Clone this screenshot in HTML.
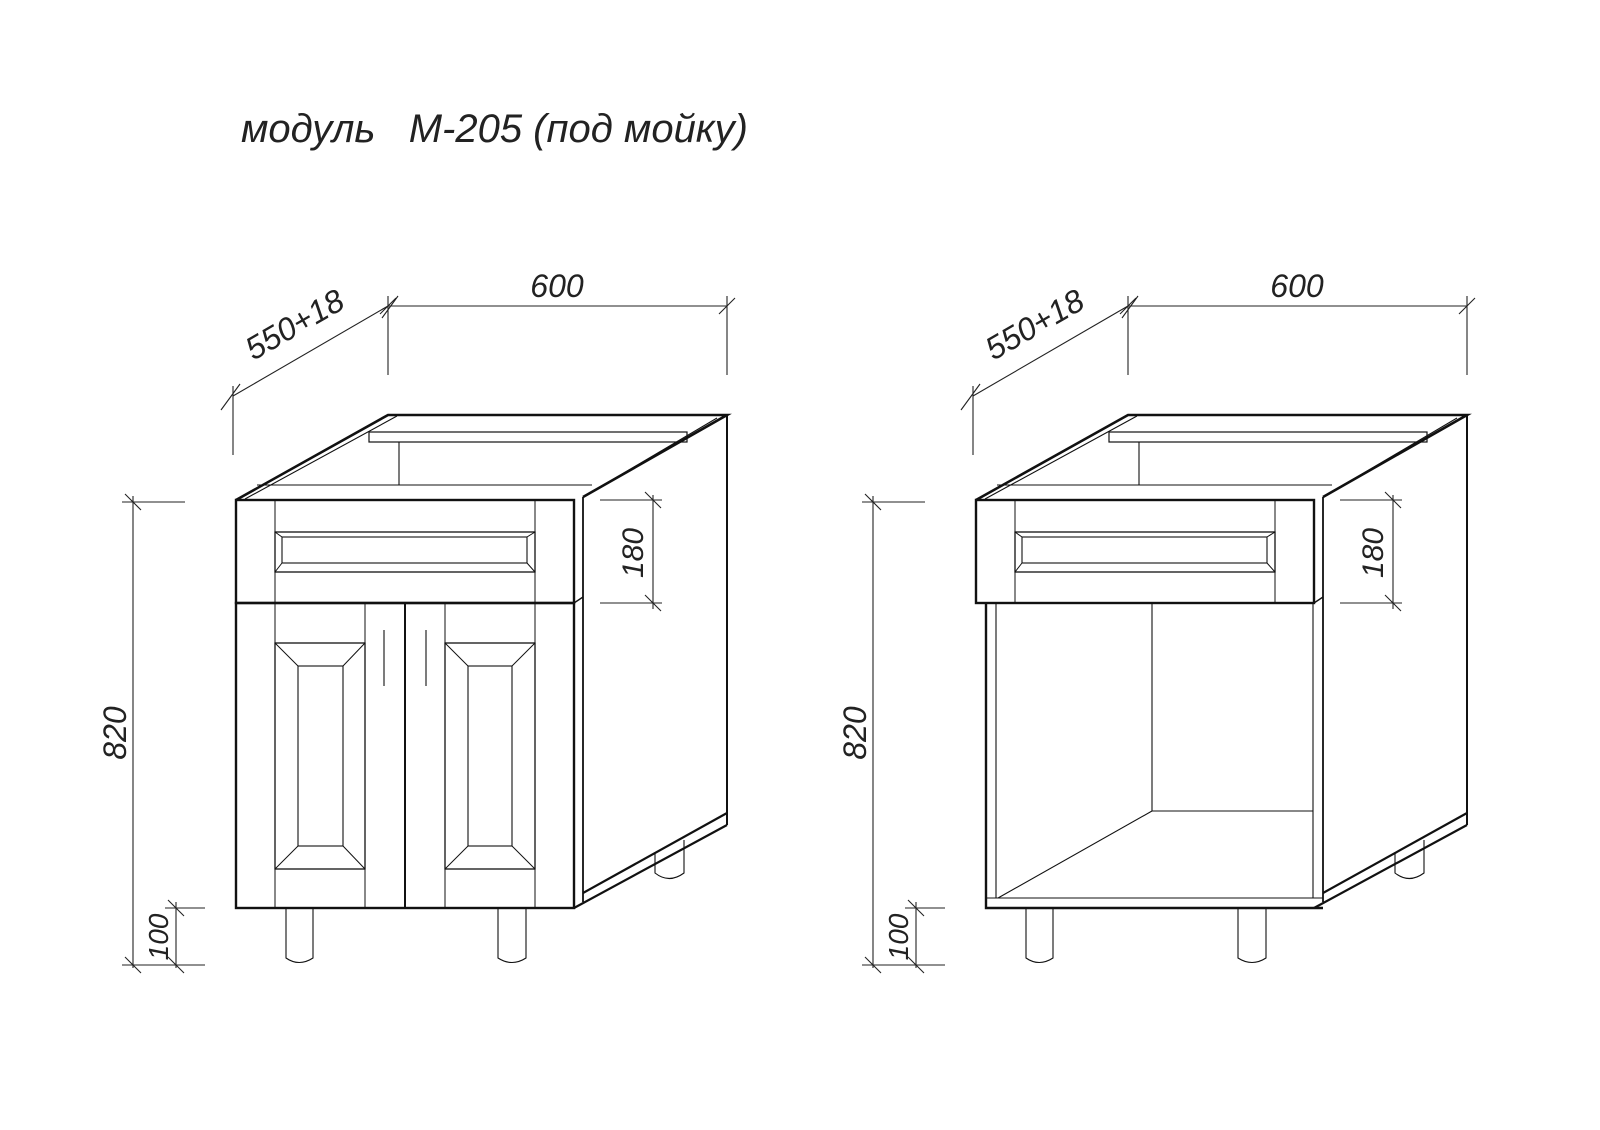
<!DOCTYPE html>
<html><head><meta charset="utf-8"><style>
html,body{margin:0;padding:0;background:#fff}
svg{display:block}
text{font-family:"Liberation Sans","DejaVu Sans",sans-serif;font-style:italic;fill:#222}
</style></head><body>
<svg width="1600" height="1130" viewBox="0 0 1600 1130" xmlns="http://www.w3.org/2000/svg">
<defs>
<g id="dims" stroke="#222" fill="none" stroke-width="1.1">
  <!-- 600 -->
  <line x1="388" y1="306" x2="727" y2="306"/>
  <line x1="388" y1="296" x2="388" y2="375"/>
  <line x1="727" y1="296" x2="727" y2="375"/>
  <line x1="380" y1="314" x2="396" y2="298"/>
  <line x1="719" y1="314" x2="735" y2="298"/>
  <!-- 550+18 -->
  <line x1="233" y1="396" x2="388" y2="306"/>
  <line x1="233" y1="386" x2="233" y2="455"/>
  <line x1="221" y1="410" x2="240" y2="384"/>
  <line x1="382" y1="318" x2="398" y2="296"/>
  <!-- 820 -->
  <line x1="133" y1="496" x2="133" y2="968"/>
  <line x1="122" y1="502" x2="185" y2="502"/>
  <line x1="122" y1="965" x2="205" y2="965"/>
  <line x1="125" y1="494" x2="141" y2="510"/>
  <line x1="125" y1="957" x2="141" y2="973"/>
  <!-- 100 -->
  <line x1="176" y1="902" x2="176" y2="968"/>
  <line x1="165" y1="908" x2="205" y2="908"/>
  <line x1="168" y1="900" x2="184" y2="916"/>
  <line x1="168" y1="957" x2="184" y2="973"/>
  <!-- 180 -->
  <line x1="653" y1="495" x2="653" y2="609"/>
  <line x1="600" y1="500" x2="662" y2="500"/>
  <line x1="600" y1="603" x2="662" y2="603"/>
  <line x1="645" y1="492" x2="661" y2="508"/>
  <line x1="645" y1="595" x2="661" y2="611"/>
</g>
<g id="dimtext">
  <text x="557" y="297" font-size="32" text-anchor="middle" transform="scale(1,1)">600</text>
  <text x="0" y="0" font-size="32" text-anchor="middle" transform="translate(300,334) rotate(-30)">550+18</text>
  <text x="0" y="0" font-size="32" text-anchor="middle" transform="translate(126,733) rotate(-90)">820</text>
  <text x="0" y="0" font-size="28" text-anchor="middle" transform="translate(168,937) rotate(-90)">100</text>
  <text x="0" y="0" font-size="30" text-anchor="middle" transform="translate(643,553) rotate(-90)">180</text>
</g>
<g id="box" stroke="#111" fill="none">
  <!-- top outline -->
  <polyline points="236,500 388,415 727,415 583,497" stroke-width="2.6"/>
  <line x1="245" y1="499" x2="397" y2="416" stroke-width="1.1"/>
  <line x1="583" y1="497" x2="717" y2="418" stroke-width="1.1"/>
  <rect x="369" y="432" width="318" height="10" stroke-width="1.2"/>
  <line x1="399" y1="442" x2="399" y2="485" stroke-width="1.1"/>
  <line x1="257" y1="485" x2="592" y2="485" stroke-width="1.1"/>
  <!-- side panel -->
  <line x1="727" y1="415" x2="727" y2="825" stroke-width="2"/>
  <line x1="583" y1="497" x2="583" y2="902" stroke-width="1.8"/>
  <line x1="574" y1="603" x2="583" y2="597" stroke-width="1.4"/>
  <line x1="574" y1="908" x2="727" y2="825" stroke-width="2.2"/>
  <line x1="583" y1="893" x2="727" y2="813" stroke-width="2.2"/>
  <!-- drawer -->
  <rect x="236" y="500" width="338" height="103" stroke-width="2.4"/>
  <line x1="275" y1="500" x2="275" y2="603" stroke-width="1"/>
  <line x1="535" y1="500" x2="535" y2="603" stroke-width="1"/>
  <rect x="275" y="532" width="260" height="40" stroke-width="1.3"/>
  <rect x="282" y="537" width="245" height="26" stroke-width="1.1"/>
  <line x1="275" y1="532" x2="282" y2="537" stroke-width="1"/>
  <line x1="535" y1="532" x2="527" y2="537" stroke-width="1"/>
  <line x1="275" y1="572" x2="282" y2="563" stroke-width="1"/>
  <line x1="535" y1="572" x2="527" y2="563" stroke-width="1"/>
  <!-- back leg -->
  <path d="M655,852 L655,873 Q669,884 684,873 L684,840" stroke-width="1.1"/>
</g>
<g id="legs" stroke="#111" fill="none" stroke-width="1.1">
  <path d="M286,908 L286,958 Q299,967 313,958 L313,908"/>
  <path d="M498,908 L498,958 Q512,967 526,958 L526,908"/>
</g>
</defs>

<text x="241" y="142" font-size="40" textLength="507" lengthAdjust="spacingAndGlyphs" font-style="italic">модуль&#160;&#160;&#160;М-205 (под мойку)</text>

<!-- LEFT CABINET -->
<use href="#dims"/>
<use href="#dimtext"/>
<use href="#box"/>
<use href="#legs"/>
<g stroke="#111" fill="none">
  <rect x="236" y="603" width="338" height="305" stroke-width="2.4"/>
  <line x1="405" y1="603" x2="405" y2="908" stroke-width="2"/>
  <line x1="275" y1="603" x2="275" y2="908" stroke-width="1"/>
  <line x1="365" y1="603" x2="365" y2="908" stroke-width="1"/>
  <line x1="445" y1="603" x2="445" y2="908" stroke-width="1"/>
  <line x1="535" y1="603" x2="535" y2="908" stroke-width="1"/>
  <rect x="275" y="643" width="90" height="226" stroke-width="1.3"/>
  <rect x="298" y="666" width="45" height="180" stroke-width="1.1"/>
  <line x1="275" y1="643" x2="298" y2="666" stroke-width="1"/>
  <line x1="365" y1="643" x2="343" y2="666" stroke-width="1"/>
  <line x1="275" y1="869" x2="298" y2="846" stroke-width="1"/>
  <line x1="365" y1="869" x2="343" y2="846" stroke-width="1"/>
  <rect x="445" y="643" width="90" height="226" stroke-width="1.3"/>
  <rect x="468" y="666" width="44" height="180" stroke-width="1.1"/>
  <line x1="445" y1="643" x2="468" y2="666" stroke-width="1"/>
  <line x1="535" y1="643" x2="512" y2="666" stroke-width="1"/>
  <line x1="445" y1="869" x2="468" y2="846" stroke-width="1"/>
  <line x1="535" y1="869" x2="512" y2="846" stroke-width="1"/>
  <line x1="384" y1="630" x2="384" y2="686" stroke-width="1.1"/>
  <line x1="426" y1="630" x2="426" y2="686" stroke-width="1.1"/>
</g>

<!-- RIGHT CABINET -->
<g transform="translate(740,0)">
  <use href="#dims"/>
  <use href="#dimtext"/>
  <use href="#box"/>
  <use href="#legs"/>
  <g stroke="#111" fill="none">
    <polyline points="246,603 246,908 583,908" stroke-width="2.4"/>
    <line x1="256" y1="603" x2="256" y2="898" stroke-width="1.1"/>
    <line x1="573" y1="603" x2="573" y2="898" stroke-width="1.1"/>
    <line x1="246" y1="898" x2="583" y2="898" stroke-width="1.1"/>
    <line x1="412" y1="603" x2="412" y2="811" stroke-width="1.1"/>
    <line x1="412" y1="811" x2="573" y2="811" stroke-width="1.1"/>
    <line x1="258" y1="898" x2="412" y2="811" stroke-width="1.1"/>
  </g>
</g>
</svg>
</body></html>
